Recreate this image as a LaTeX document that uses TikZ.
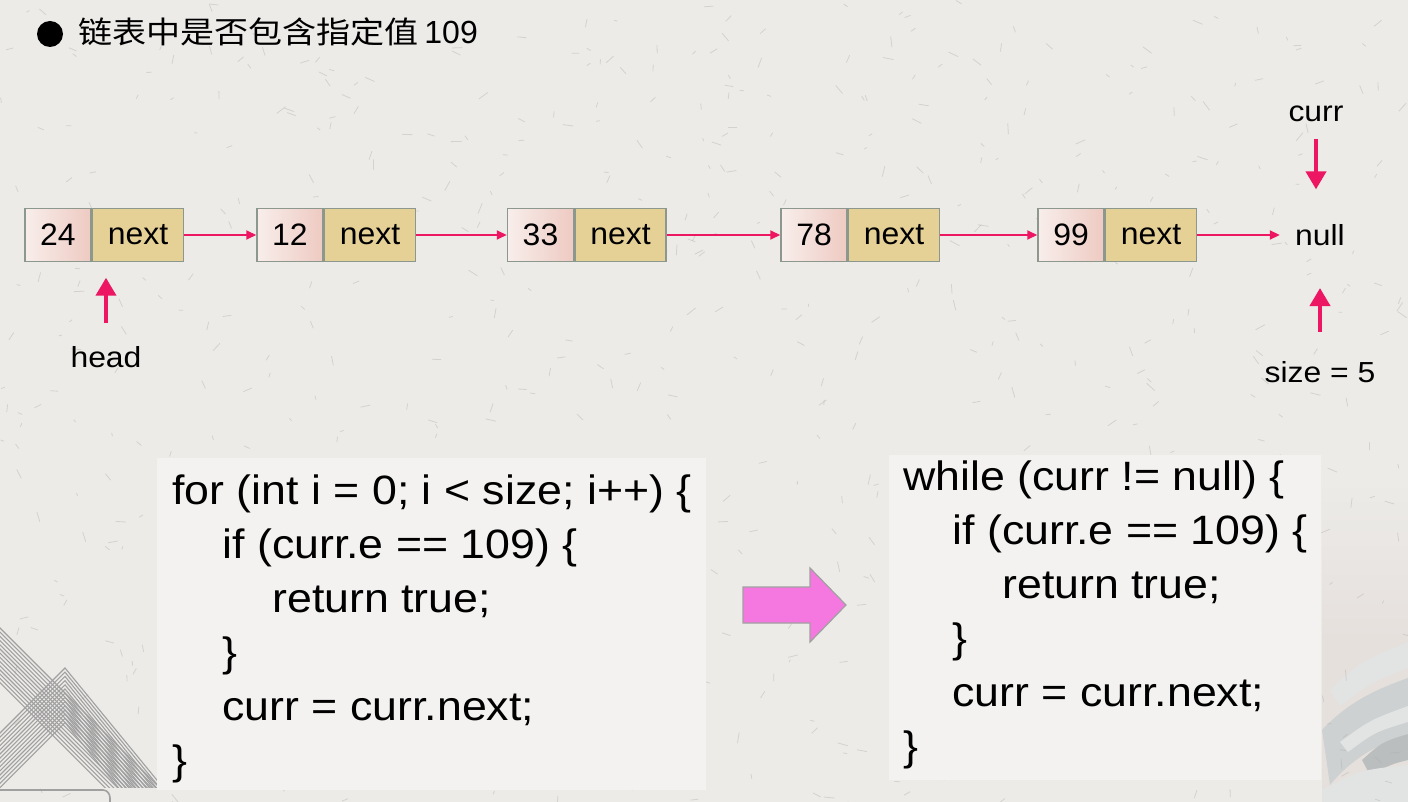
\documentclass[tikz,border=0pt]{standalone}
\usepackage{fontspec}
\setmainfont{Liberation Sans}
\newfontfamily\cjkfont{Noto Sans CJK SC}[FakeStretch=1.12]
\newfontfamily\codefont{Liberation Sans}[FakeStretch=1.09]
\newfontfamily\labfont{Liberation Sans}[FakeStretch=1.1]
\newfontfamily\cellfont{Liberation Sans}[FakeStretch=1.03]
\usetikzlibrary{arrows.meta}

\definecolor{paper}{RGB}{236,235,232}
\definecolor{fibre}{RGB}{175,173,170}
\definecolor{codebg}{RGB}{243,242,240}
\definecolor{linkpink}{RGB}{236,22,98}
\definecolor{cellborder}{RGB}{140,152,142}
\definecolor{valleft}{RGB}{248,238,235}
\definecolor{valright}{RGB}{238,202,194}
\definecolor{nextfill}{RGB}{229,208,150}
\definecolor{bigarrow}{RGB}{245,120,225}
\definecolor{decoline}{RGB}{160,160,160}
\definecolor{tint}{RGB}{230,224,221}
\definecolor{brushlight}{RGB}{226,228,228}
\definecolor{brushmid}{RGB}{205,209,209}
\definecolor{brushdark}{RGB}{186,190,190}

\tikzset{
  cellbase/.style={draw=cellborder, line width=0.75pt, minimum height=26.5pt,
    inner sep=0pt, font=\cellfont\fontsize{15.5}{18}\selectfont, text=black},
  valcell/.style={cellbase, minimum width=33pt, left color=valleft, right color=valright},
  nextcell/.style={cellbase, minimum width=45.5pt, fill=nextfill, anchor=west},
  link/.style={draw=linkpink, line width=1pt, -{Triangle[length=5pt,width=4.5pt]}},
  pointer/.style={draw=linkpink, line width=2pt, -{Triangle[length=9pt,width=10pt]}},
  lab/.style={font=\labfont\fontsize{14.5}{17}\selectfont, inner sep=0pt},
  codeline/.style={font=\codefont\fontsize{20.5}{24}\selectfont, anchor=base west, inner sep=0pt},
  fiber/.style={draw=fibre, line width=0.4pt, opacity=0.4},
  deco/.style={draw=decoline, line width=0.55pt},
}

\begin{document}
\begin{tikzpicture}[x=0.5pt, y=-0.5pt]
  % canvas
  \useasboundingbox (0,0) rectangle (1408,802);
  \fill[paper] (0,0) rectangle (1408,802);

  % faint tint and brush strokes on the right
  \shade[top color=paper, bottom color=tint] (1322,480) rectangle (1408,640);
  \fill[tint] (1322,640) rectangle (1408,802);
  \begin{scope}
    \clip (1322,600) rectangle (1408,802);
    \fill[brushlight] (1330,690) .. controls (1360,662) .. (1408,642) -- (1408,668) .. controls (1372,682) .. (1340,706) -- cycle;
    \fill[brushmid] (1322,730) .. controls (1350,700) and (1380,688) .. (1408,678) -- (1408,735) .. controls (1380,742) and (1350,760) .. (1330,785) -- cycle;
    \fill[brushlight] (1340,742) .. controls (1370,720) .. (1408,706) -- (1408,722) .. controls (1375,732) .. (1348,752) -- cycle;
    \fill[brushdark] (1362,760) .. controls (1382,742) .. (1408,734) -- (1408,760) .. controls (1392,764) .. (1370,775) -- cycle;
    \fill[brushlight] (1322,790) .. controls (1360,770) .. (1408,765) -- (1408,802) -- (1322,802) -- cycle;
  \end{scope}

  % paper fibres
  \pgfmathsetseed{20}
  \foreach \i in {1,...,650}{
    \pgfmathsetmacro\fx{rnd*1408}
    \pgfmathsetmacro\fy{rnd*802}
    \pgfmathsetmacro\fa{rnd*180}
    \pgfmathsetmacro\fl{3+rnd*8}
    \draw[fiber] (\fx,\fy) -- ++(\fa:\fl);
  }

  % line-art triangles, lower left
  \begin{scope}
    \clip (0,600) rectangle (160,787);
    \foreach \k in {0,...,13}{
      \draw[deco] (-40,588+4.2*\k) -- ++(260,260);
      \draw[deco] (-85,818+4.2*\k) -- (65,668+4.2*\k) -- ++(123,150);
    }
  \end{scope}
  \draw[deco, line width=0.8pt] (0,790) -- (103,790) to[out=0,in=90] (110,798) -- (110,802);

  % title
  \fill[black] (50,34) circle[radius=13];
  \node[anchor=base west, inner sep=0pt] (title) at (78,44)
    {{\cjkfont\fontsize{15.2}{18}\selectfont 链表中是否包含指定值} {\fontsize{16}{19}\selectfont 109}};

  % linked list
  \node[valcell] (v1) at (58,235) {24};
  \node[nextcell] (n1) at (v1.east) {next};
  \node[valcell] (v2) at (290,235) {12};
  \node[nextcell] (n2) at (v2.east) {next};
  \node[valcell] (v3) at (540.5,235) {33};
  \node[nextcell] (n3) at (v3.east) {next};
  \node[valcell] (v4) at (814,235) {78};
  \node[nextcell] (n4) at (v4.east) {next};
  \node[valcell] (v5) at (1071,235) {99};
  \node[nextcell] (n5) at (v5.east) {next};
  \node[lab, inner xsep=7.5pt] (null) at (1320,235) {null};

  \draw[link] (n1.east) -- (v2.west);
  \draw[link] (n2.east) -- (v3.west);
  \draw[link] (n3.east) -- (v4.west);
  \draw[link] (n4.east) -- (v5.west);
  \draw[link] (n5.east) -- (null.west);

  % pointers
  \node[lab, anchor=base] (head) at (106,367) {head};
  \node[lab, anchor=base] (curr) at (1316,122) {curr};
  \node[lab, anchor=base] (size) at (1320,382) {size = 5};
  \draw[pointer, shorten <=11.5pt, shorten >=7.75pt] (head.north) -- (head.north |- v1.south);
  \draw[pointer, shorten <=8pt, shorten >=17.3pt] (curr.south) -- (curr.south |- null.north);
  \draw[pointer, shorten <=14.5pt, shorten >=21pt] (size.north) -- (size.north |- null.south);

  % code panels
  \fill[codebg] (157,458) rectangle (706,790);
  \fill[codebg] (889,455) rectangle (1321,780);

  \node[codeline] (c1) at (172,504) {for (int i = 0; i < size; i++) \{};
  \node[codeline] (c2) at (222,558) {if (curr.e == 109) \{};
  \node[codeline] (c3) at (272,612) {return true;};
  \node[codeline] (c4) at (222,666) {\}};
  \node[codeline] (c5) at (222,720) {curr = curr.next;};
  \node[codeline] (c6) at (172,774) {\}};

  \node[codeline] (w1) at (903,490) {while (curr != null) \{};
  \node[codeline] (w2) at (952,544) {if (curr.e == 109) \{};
  \node[codeline] (w3) at (1002,598) {return true;};
  \node[codeline] (w4) at (952,652) {\}};
  \node[codeline] (w5) at (952,706) {curr = curr.next;};
  \node[codeline] (w6) at (903,760) {\}};

  % block arrow between the two loops
  \filldraw[fill=bigarrow, draw=decoline, line width=0.6pt]
    (743,587) -- (810,587) -- (810,568) -- (846,605) -- (810,642) -- (810,623) -- (743,623) -- cycle;
\end{tikzpicture}
\end{document}
